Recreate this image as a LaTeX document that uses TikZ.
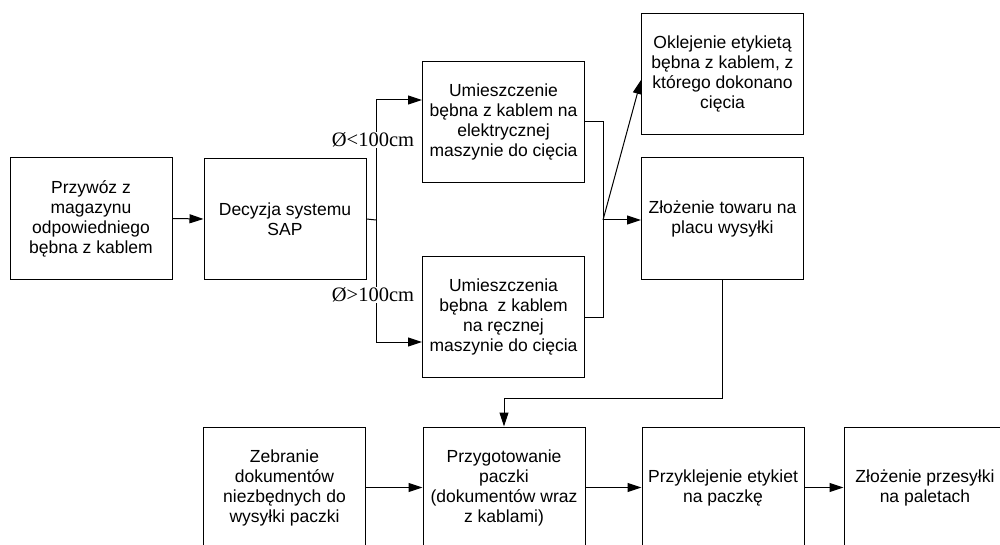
\documentclass[tikz,border=0pt]{standalone}
\usepackage{fontspec}
\setmainfont{Liberation Sans}
\newfontfamily\condfont{Liberation Serif}
\usetikzlibrary{arrows.meta}

\begin{document}
\begin{tikzpicture}[x=1pt,y=-1pt,
  box/.style={draw, line width=1pt, minimum width=162pt, minimum height=121pt,
    inner sep=0pt, align=center, font=\fontsize{17.5}{20}\selectfont},
  link/.style={line width=1pt},
  flow/.style={link, -{Triangle[length=14pt,width=9pt]}},
  cond/.style={fill=white, inner sep=1pt, font=\condfont\fontsize{20.5}{22}\selectfont}]
\useasboundingbox (0,0) rectangle (1000,545);
\clip (0,0) rectangle (1000,545);

% process steps
\node[box] (przywoz) at (91,218.5) {Przywóz z\\magazynu\\odpowiedniego\\bębna z kablem};
\node[box] (decyzja) at (285,219) {Decyzja systemu\\SAP};
\node[box] (elektr) at (503.5,122) {Umieszczenie\\bębna z kablem na\\elektrycznej\\maszynie do cięcia};
\node[box] (reczna) at (503.5,317) {Umieszczenia\\bębna~ z kablem\\na ręcznej\\maszynie do cięcia};
\node[box] (oklej) at (722.5,74) {Oklejenie etykietą\\bębna z kablem, z\\którego dokonano\\cięcia};
\node[box] (towar) at (722.5,218.5) {Złożenie towaru na\\placu wysyłki};
\node[box] (dokum) at (284.5,487.5) {Zebranie\\dokumentów\\niezbędnych do\\wysyłki paczki};
\node[box] (paczka) at (504,487.5) {Przygotowanie\\paczki\\(dokumentów wraz\\z kablami)};
\node[box] (etyk) at (723,487.5) {Przyklejenie etykiet\\na paczkę};
\node[box] (palety) at (925,487.5) {Złożenie przesyłki\\na paletach};

% decision branch
\coordinate (split) at (376,220);
\coordinate (splitT) at (376,100);
\coordinate (splitB) at (376,342);
\draw[flow] (przywoz.east) -- (decyzja.west);
\draw[link] (decyzja.east) -- (split);
\draw[link] (splitT) -- (splitB);
\draw[flow] (splitT) -- (elektr.west |- splitT);
\draw[flow] (splitB) -- (reczna.west |- splitB);
\node[cond] (mniej) at (373,140) {Ø<100cm};
\node[cond] (wiecej) at (373,295) {Ø>100cm};

% merge after cutting
\coordinate (join) at (603,220);
\draw[link] (elektr.east) -| (join);
\draw[link] (reczna.east) -| (join);
\draw[flow] (join) -- (towar.west |- join);
\draw[flow] (join) -- ([yshift=-6pt]oklej.west);

% shipping chain
\draw[flow] (towar.south) -- ++(0,119) -| (paczka.north);
\draw[flow] (dokum.east) -- (paczka.west);
\draw[flow] (paczka.east) -- (etyk.west);
\draw[flow] (etyk.east) -- (palety.west);
\end{tikzpicture}
\end{document}
